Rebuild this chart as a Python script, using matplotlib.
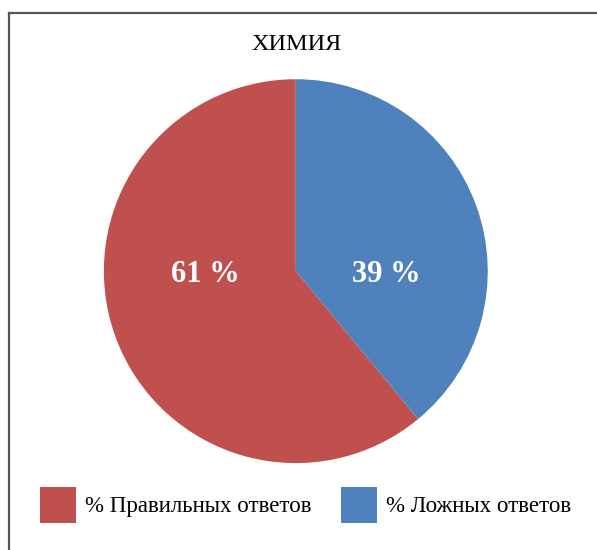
# Pie chart: ХИМИЯ, share of right / wrong answers

import matplotlib
matplotlib.use("Agg")
import matplotlib.pyplot as plt
from matplotlib.lines import Line2D
from matplotlib.patches import Patch

plt.rcParams["font.family"] = ["Liberation Serif", "DejaVu Serif"]

title = "ХИМИЯ"
labels = ["% Правильных ответов", "% Ложных ответов"]
values = [61, 39]
colors = ["#C0504D", "#4F81BD"]

fig = plt.figure(figsize=(5.97, 5.50), dpi=100)
ax = fig.add_axes([0.174, 0.158, 0.643, 0.698])

wedges, _ = ax.pie(values, colors=colors, startangle=90, counterclock=True,
                   radius=1.0)
ax.set_xlim(-1, 1)
ax.set_ylim(-1, 1)
ax.set_aspect("equal")

# value labels sit left and right of the centre, like the original
for v, xpos in zip(values, [-0.47, 0.47]):
    ax.text(xpos, -0.02, f"{v} %", ha="center", va="center", color="white",
            fontsize=22, fontweight="bold")

fig.text(0.4975, 1 - 44 / 550, title, ha="center", va="center", fontsize=17.5)

handles = [Patch(facecolor=c, edgecolor="none") for c in colors]
fig.legend(handles, labels, loc="center", bbox_to_anchor=(0.512, 0.0815),
           ncol=2, frameon=False, fontsize=16.5, handlelength=1.57,
           handleheight=2.0, handletextpad=0.39, columnspacing=1.3,
           borderpad=0, borderaxespad=0)

# frame: only top and left edges visible in the crop
ytop = 1 - 12.5 / 550
xleft = 8.5 / 597
fig.add_artist(Line2D([xleft, 1], [ytop, ytop], transform=fig.transFigure,
                      color="#555555", lw=1.6))
fig.add_artist(Line2D([xleft, xleft], [0, ytop], transform=fig.transFigure,
                      color="#555555", lw=1.6))

fig.savefig("out.png", dpi=100)
